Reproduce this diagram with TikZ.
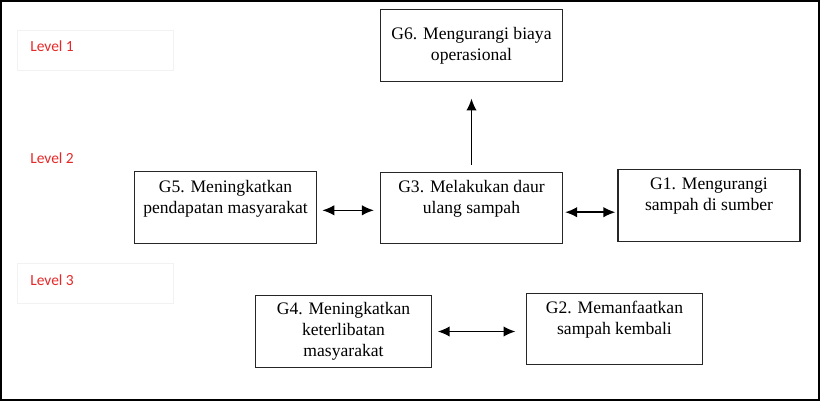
\documentclass[tikz,border=0pt]{standalone}
\usepackage{fontspec}
\setmainfont{Liberation Serif}
\newfontfamily\lvlfont{Carlito}
\usetikzlibrary{arrows.meta}
\definecolor{lvlred}{RGB}{230,40,40}
\begin{document}
\begin{tikzpicture}[
    x=0.025cm, y=-0.025cm,
    goal/.style={rectangle, draw=black!85, line width=0.8pt, align=center, minimum width=4.55cm, minimum height=1.78cm, font=\fontsize{12.5}{15}\selectfont},
    lifted/.style={text depth=0.55cm},
    lvl/.style={anchor=west, inner sep=0, text=lvlred, font=\lvlfont\fontsize{11}{13}\selectfont},
    lvlbox/.style={draw=black!5, line width=0.6pt},
    oneway/.style={-{Latex[length=3mm,width=2.6mm]}, line width=1.1pt},
    twoway/.style={{Latex[length=3mm,width=2.6mm]}-{Latex[length=3mm,width=2.6mm]}, line width=1.1pt}
  ]
    \useasboundingbox (0,0) rectangle (820,401);
    \draw[line width=1.5pt] (1,1) rectangle (819,400);
    % level labels
    \draw[lvlbox] (17,30) rectangle (173,70);
    \draw[lvlbox] (17,263) rectangle (173,303);
    \node[lvl] (lv1) at (30,46) {Level 1};
    \node[lvl] (lv2) at (30,158) {Level 2};
    \node[lvl] (lv3) at (30,280) {Level 3};
    % goals
    \node[goal] (g6) at (471.5,45.5) {G6. Mengurangi biaya\\operasional};
    \node[goal, lifted] (g5) at (225.5,207.5) {G5. Meningkatkan\\pendapatan masyarakat};
    \node[goal, lifted] (g3) at (471.5,208) {G3. Melakukan daur\\ulang sampah};
    \node[goal, lifted] (g1) at (709,205.5) {G1. Mengurangi\\sampah di sumber};
    \node[goal, minimum width=4.42cm] (g4) at (343.5,331.5) {G4. Meningkatkan\\keterlibatan\\masyarakat};
    \node[goal, lifted, minimum width=4.42cm] (g2) at (614.5,329) {G2. Memanfaatkan\\sampah kembali};
    % links
    \draw[oneway, shorten <=0.18cm, shorten >=0.42cm] (g3) -- (g6);
    \draw[twoway, shorten <=0.13cm, shorten >=0.15cm] ([yshift=-2pt]g5.east) -- ([yshift=-2pt]g5.east -| g3.west);
    \draw[twoway, shorten <=0.05cm, shorten >=0.05cm] ([yshift=-3pt]g3.east) -- ([yshift=-3pt]g3.east -| g1.west);
    \draw[twoway, shorten <=0.13cm, shorten >=0.25cm] (g4.east) -- (g4.east -| g2.west);
\end{tikzpicture}
\end{document}
